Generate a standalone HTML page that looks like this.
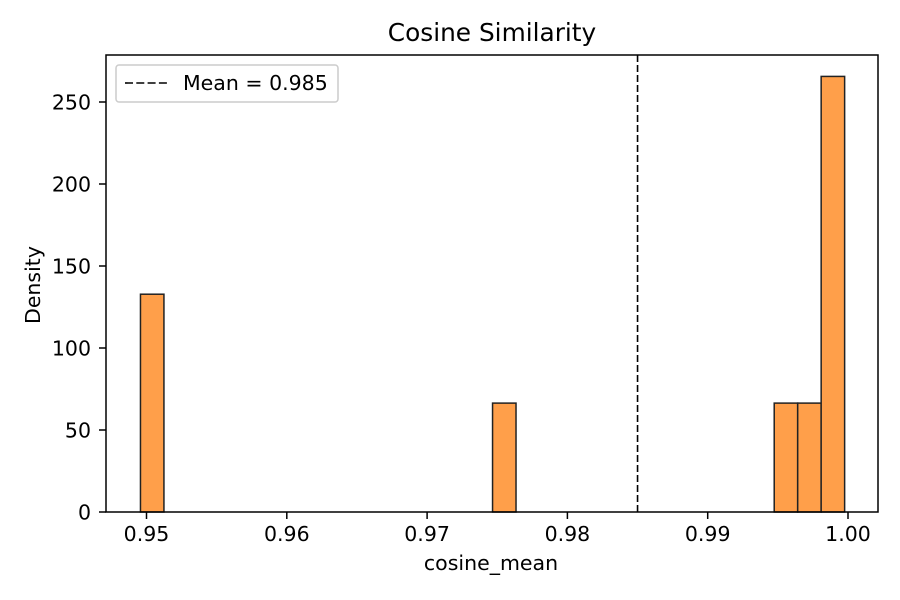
<!DOCTYPE html>
<html><head><meta charset="utf-8"><style>body{margin:0;background:#fff}text{font-family:"DejaVu Sans","Liberation Sans",sans-serif}</style></head>
<body>
<svg id="chart" width="900" height="600" xmlns="http://www.w3.org/2000/svg" style="position:absolute;left:0;top:0"></svg>
<script>
const binStart = 0.94957;
const binWidth = 0.001673;
const binIndices = [0, 15, 27, 28, 29];
const densities = [132.8, 66.4, 66.4, 66.4, 265.6];
const meanValue = 0.985;
const xTicks = [0.95, 0.96, 0.97, 0.98, 0.99, 1.00];
const xTickLabels = ["0.95", "0.96", "0.97", "0.98", "0.99", "1.00"];
const yTicks = [0, 50, 100, 150, 200, 250];

const svg = document.getElementById('chart');
const NS = 'http://www.w3.org/2000/svg';
const L = 106, R = 878, T = 55, B = 512;
const xs = v => 146.5 + (v - 0.95) * 14030;
const ys = v => B - v * 1.64;
function mk(tag, attrs, parent) {
  const e = document.createElementNS(NS, tag);
  for (const k in attrs) e.setAttribute(k, attrs[k]);
  (parent || svg).appendChild(e);
  return e;
}
const bars = mk('g', {});


binIndices.forEach((bi, i) => {
  const x0 = xs(binStart + bi * binWidth), x1 = xs(binStart + (bi + 1) * binWidth);
  const r = mk('rect', {x: x0, y: ys(densities[i]), width: x1 - x0, height: B - ys(densities[i]), fill: '#ff9f4a', stroke: '#222', 'stroke-width': 1.5}, bars);
  
  
});
const ml = mk('line', {x1: xs(meanValue), x2: xs(meanValue), y1: T, y2: B, stroke: '#000', 'stroke-width': 1.6, 'stroke-dasharray': '7,3'});


const frame = mk('rect', {x: L, y: T, width: R - L, height: B - T, fill: 'none', stroke: '#000', 'stroke-width': 1.5});


xTicks.forEach((t, i) => {
  const x = xs(t);
  mk('line', {x1: x, x2: x, y1: B, y2: B + 7, stroke: '#000', 'stroke-width': 1.5});
  const tx = mk('text', {x: x, y: B + 29, 'text-anchor': 'middle', 'font-size': 20.5});
  tx.textContent = xTickLabels[i];
  
  
});
yTicks.forEach(t => {
  const y = ys(t);
  mk('line', {x1: L - 7, x2: L, y1: y, y2: y, stroke: '#000', 'stroke-width': 1.5});
  const tx = mk('text', {x: L - 15, y: y + 7.4, 'text-anchor': 'end', 'font-size': 20.5});
  tx.textContent = t;
  
  
});
</script>
<svg style="position:absolute;left:0;top:0" width="900" height="600" xmlns="http://www.w3.org/2000/svg">
<text x="492" y="41" text-anchor="middle" font-size="24.8">Cosine Similarity</text>
<text x="491" y="570" text-anchor="middle" font-size="20.5">cosine_mean</text>
<text transform="translate(40,285) rotate(-90)" text-anchor="middle" font-size="20.5">Density</text>
<g>
<rect x="116" y="65" width="222" height="37" rx="3" fill="#fff" stroke="#ccc" stroke-width="1.5"/>
<line x1="125" y1="83" x2="167" y2="83" stroke="#000" stroke-width="1.6" stroke-dasharray="8,3.3"/>
<text x="183" y="90" font-size="20.5">Mean = 0.985</text>
</g>
</svg>
</body></html>
